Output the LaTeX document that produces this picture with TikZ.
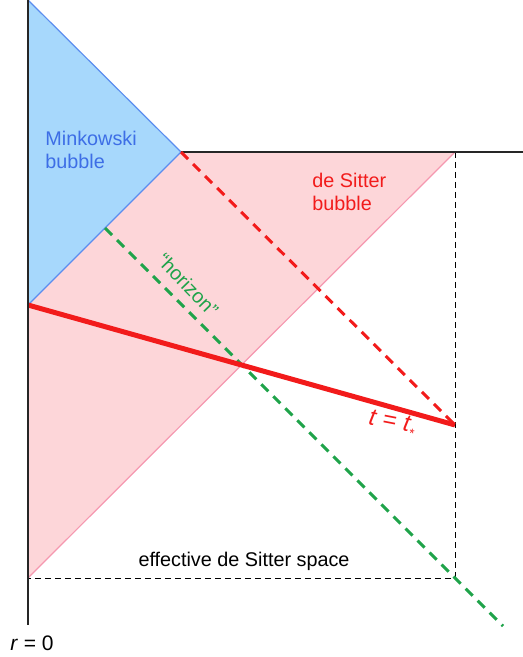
\documentclass[tikz,border=0pt]{standalone}
\usepackage{fontspec}
\setmainfont{Liberation Sans}
\usepackage{tikz}
\usetikzlibrary{positioning, calc}
\usepackage{xcolor}

\definecolor{minkfill}{HTML}{A7D8FC}
\definecolor{minkedge}{HTML}{5B8DEF}
\definecolor{minktext}{HTML}{3D6EE6}
\definecolor{dsfill}{HTML}{FDD6D9}
\definecolor{dsedge}{HTML}{F598B0}
\definecolor{dsred}{HTML}{F21B1B}
\definecolor{hgreen}{HTML}{1FA34A}

\begin{document}
\begin{tikzpicture}[
        x=0.5pt, y=-0.5pt,
        lab/.style={font=\fontsize{9.9}{11.5}\selectfont, align=left, inner sep=0pt},
        axisline/.style={line width=1pt, black!85},
        guide/.style={line width=0.5pt, dash pattern=on 3pt off 2pt},
        lightray/.style={line width=1.5pt, dash pattern=on 5pt off 3.5pt},
        slice/.style={line width=2.5pt, dsred}
    ]
    \useasboundingbox (0,0) rectangle (523,657);
    \coordinate (top) at (28,0);
    \coordinate (mink) at (181,152);
    \coordinate (nuc) at (28,305);
    \coordinate (dscorner) at (455,152);
    \coordinate (base) at (28,578);
    \coordinate (tstar) at (455,425);
    \coordinate (effcorner) at (455,578);
    \coordinate (hstart) at (105,228);
    \coordinate (hend) at (503,626);
    \coordinate (axisend) at (28,625);
    \coordinate (edge) at (523,152);
    % bubbles
    \fill[dsfill] (mink) -- (dscorner) -- (base) -- (nuc) -- cycle;
    \fill[minkfill] (top) -- (mink) -- (nuc) -- cycle;
    \draw[minkedge, line width=0.6pt] (top) -- (mink) -- (nuc);
    \draw[dsedge, line width=0.6pt] (dscorner) -- (base);
    % effective de Sitter space
    \draw[guide] (dscorner) -- (effcorner) -- (base);
    \draw[axisline] (mink) -- (edge);
    \draw[lightray, dsred] (mink) -- (tstar);
    \draw[lightray, hgreen] (hstart) -- (hend);
    \draw[slice] (nuc) -- (tstar);
    \draw[axisline] (top) -- (axisend);
    % labels
    \node[lab, minktext, anchor=north west] (minklabel) at (45,131) {Minkowski\\bubble};
    \node[lab, dsred, anchor=north west] (dslabel) at (312,173) {de Sitter\\bubble};
    \node[lab, hgreen, rotate=-46] (horizon) at (188,285) {``horizon''};
    \node[lab, dsred, font=\fontsize{12}{14}\selectfont, rotate=-11] (tlabel) at (392,424)
        {\textit{t} = \textit{t}\raisebox{-0.45ex}{\fontsize{6.5}{7}\selectfont *}};
    \node[lab, anchor=base] (efflabel) at (244,566) {effective de Sitter space};
    \node[lab, anchor=base, font=\fontsize{10.5}{12}\selectfont] (rzero) at (32,650) {\textit{r} = 0};
\end{tikzpicture}
\end{document}
